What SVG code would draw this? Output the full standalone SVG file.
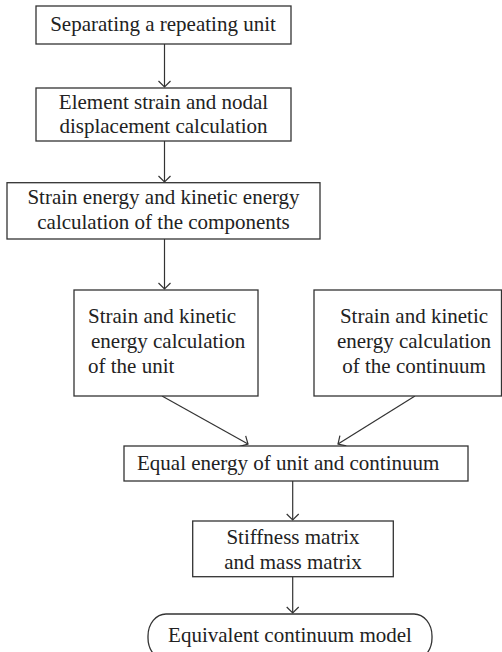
<svg xmlns="http://www.w3.org/2000/svg" width="502" height="652" viewBox="0 0 502 652">
<defs>
<marker id="ah" markerWidth="14" markerHeight="14" refX="7" refY="7" orient="auto" markerUnits="userSpaceOnUse">
<path d="M1,1 L7,7 L1,13" fill="none" stroke="#333" stroke-width="1.2"/>
</marker>
<style>
.box{fill:#fff;stroke:#333;stroke-width:1.3}
.t{font-family:"Liberation Serif","Times New Roman",serif;font-size:21px;fill:#222}
.c{text-anchor:middle}
.ln{stroke:#333;stroke-width:1.2;fill:none;marker-end:url(#ah)}
</style>
</defs>
<rect width="502" height="652" fill="#fff"/>
<g id="connectors">
<line class="ln" x1="164.5" y1="44" x2="164.5" y2="87"/>
<line class="ln" x1="164.5" y1="141" x2="164.5" y2="182"/>
<line class="ln" x1="164.5" y1="239" x2="164.5" y2="289"/>
<line class="ln" x1="162" y1="396" x2="248" y2="444"/>
<line class="ln" x1="415" y1="396" x2="338" y2="444"/>
<line class="ln" x1="292.7" y1="481" x2="292.7" y2="520"/>
<line class="ln" x1="292.7" y1="577" x2="292.7" y2="613"/>
</g>
<g id="n1"><rect class="box" x="36" y="6" width="255" height="38"/><text class="t c" x="163" y="31">Separating a repeating unit</text></g>
<g id="n2"><rect class="box" x="36" y="88" width="255" height="53"/><text class="t c" x="163.5" y="109">Element strain and nodal</text><text class="t c" x="163.5" y="133">displacement calculation</text></g>
<g id="n3"><rect class="box" x="7" y="182.7" width="313" height="56.3"/><text class="t c" x="163.5" y="204">Strain energy and kinetic energy</text><text class="t c" x="163.5" y="229">calculation of the components</text></g>
<g id="n4"><rect class="box" x="74" y="290" width="184" height="106"/><text class="t" x="88" y="323">Strain and kinetic</text><text class="t" x="91" y="348">energy calculation</text><text class="t" x="88" y="373">of the unit</text></g>
<g id="n5"><rect class="box" x="314" y="290" width="187.5" height="106"/><text class="t c" x="414" y="323">Strain and kinetic</text><text class="t c" x="414" y="348">energy calculation</text><text class="t c" x="414" y="373">of the continuum</text></g>
<g id="n6"><rect class="box" x="124" y="446" width="344" height="35"/><text class="t" x="137" y="470">Equal energy of unit and continuum</text></g>
<g id="n7"><rect class="box" x="192.7" y="521" width="200.6" height="55.7"/><text class="t c" x="293" y="544">Stiffness matrix</text><text class="t c" x="293" y="569">and mass matrix</text></g>
<g id="n8"><rect class="box" x="148" y="614" width="284" height="46" rx="18" ry="22"/><text class="t c" x="290" y="642">Equivalent continuum model</text></g>
</svg>
